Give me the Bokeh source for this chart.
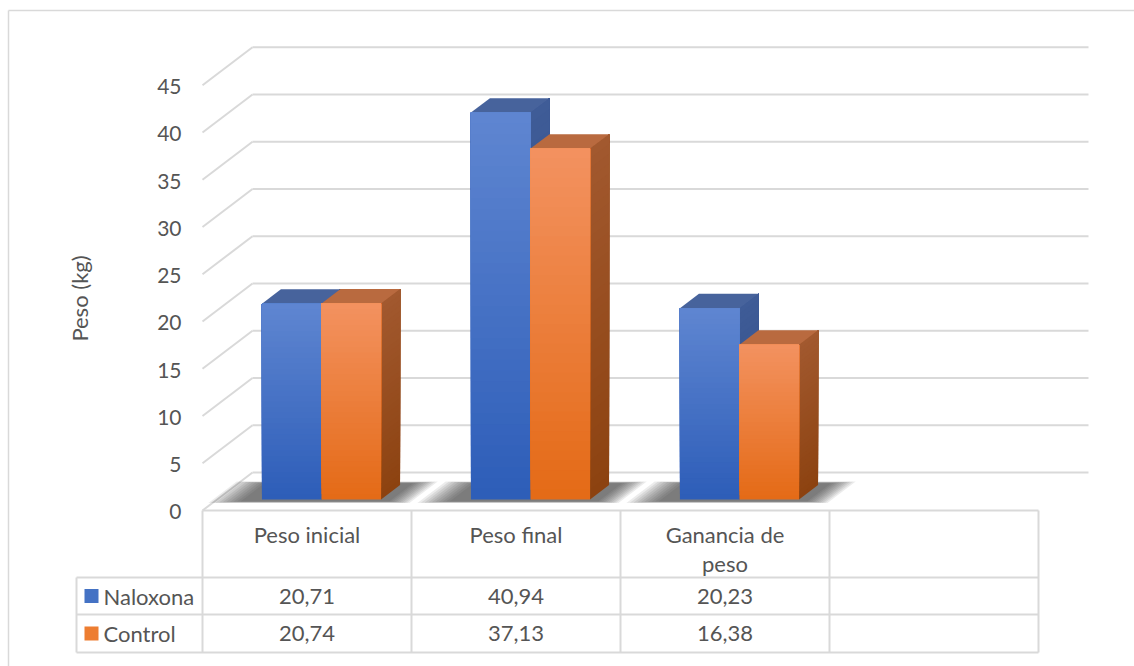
import math
from bokeh.plotting import figure
from bokeh.models import Range1d
from bokeh.core.properties import value
from bokeh.embed import file_html
from bokeh.resources import INLINE

# ---------------- data ----------------
categories = ["Peso inicial", "Peso final", "Ganancia de peso"]
n_columns = 4  # the table has one extra empty column
naloxona = [20.71, 40.94, 20.23]
control = [20.74, 37.13, 16.38]
series_names = ["Naloxona", "Control"]
y_ticks = [0, 5, 10, 15, 20, 25, 30, 35, 40, 45]
y_label = "Peso (kg)"

# ---------------- layout (pixel geometry) ----------------
W, H = 1134, 666
X0, CW = 202.0, 209.0       # left of first category column, column width (px)
Y0, KY = 510.0, 9.45        # px of value 0 on front plane, px per kg
DX = 50.0 / CW              # depth offset (data units)
DY = 38.0 / KY
D0, D1 = 0.29, 0.67         # bar depth (fraction of floor depth)
BAR_L, BAR_W = 0.215, 0.285

def X(px):
    return (px - X0) / CW

def Y(py):
    return (Y0 - py) / KY

FONT = value("Lato")
TXT = "#555555"
GRID = "#D9D9D9"
FS = "22px"

p = figure(width=W, height=H, x_range=Range1d(X(0), X(W)), y_range=Range1d(Y(H), Y(0)),
           output_backend="svg", toolbar_location=None, min_border=0)
p.axis.visible = False
p.grid.visible = False
p.outline_line_color = None
p.background_fill_color = "white"
p.border_fill_color = "white"

# outer chart frame (top + left)
p.segment(x0=[X(8), X(8)], y0=[Y(10), Y(10)], x1=[X(W), X(8)], y1=[Y(10), Y(H)],
          line_color=GRID, line_width=1.5)

# ---------------- gridlines (back wall + diagonal side wall) ----------------
gx0, gy0, gx1, gy1 = [], [], [], []
for v in y_ticks:
    gx0 += [DX, 0]
    gy0 += [v + DY, v]
    gx1 += [n_columns + DX, DX]
    gy1 += [v + DY, v + DY]
p.segment(x0=gx0, y0=gy0, x1=gx1, y1=gy1, line_color=GRID, line_width=2)

# tick labels
p.text(x=[X(181)] * len(y_ticks), y=[t - 0.15 for t in y_ticks], text=[str(t) for t in y_ticks],
       text_font=FONT, text_font_size="21px", text_color=TXT,
       text_align="right", text_baseline="middle")

# axis title
p.text(x=[X(79)], y=[Y(298)], text=[y_label], angle=math.pi / 2,
       text_font=FONT, text_font_size=FS, text_color=TXT,
       text_align="center", text_baseline="middle")

# ---------------- colours ----------------
def hex2rgb(h):
    h = h.lstrip("#")
    return tuple(int(h[i:i + 2], 16) for i in (0, 2, 4))

def mix(c1, c2, t):
    a, b = hex2rgb(c1), hex2rgb(c2)
    return "#%02x%02x%02x" % tuple(int(round(a[i] + (b[i] - a[i]) * t)) for i in range(3))

styles = [
    dict(front_top="#5F86D1", front_bot="#2D5DB8", side_top="#3F5C97", side_bot="#2C4A86",
         top="#47639C", legend="#4472C4"),
    dict(front_top="#F39260", front_bot="#E46A16", side_top="#A2592F", side_bot="#8C4210",
         top="#B96A3F", legend="#ED7D31"),
]

# ---------------- floor shadows (soft, many faint layers) ----------------
sh_xs, sh_ys = [], []
LAYERS = 10
for i in range(len(categories)):
    for k in range(LAYERS):
        e = 0.008 * (LAYERS - 1 - k)
        xl = i + BAR_L - 0.09 - e * 2.0
        xr = i + BAR_L + 2 * BAR_W + 0.05 + e * 1.5
        da = D0 - 0.05 - e * 0.6
        db = D1 + 0.05 + e * 0.6
        sh_xs.append([xl + da * DX, xr + da * DX, xr + db * DX, xl + db * DX])
        sh_ys.append([da * DY, da * DY, db * DY, db * DY])
p.patches(xs=sh_xs, ys=sh_ys, fill_color="#2a2a2a", fill_alpha=0.09, line_color=None)

# ---------------- 3D bars ----------------
N = 36
for i in range(len(categories)):
    for s, vals in enumerate([naloxona, control]):
        v = vals[i]
        st = styles[s]
        xl = i + BAR_L + s * BAR_W
        xr = xl + BAR_W
        s_xs, s_ys, s_c = [], [], []
        q_l, q_r, q_b, q_t, q_c = [], [], [], [], []
        for k in range(N):
            a = v * k / N
            s_xs.append([xr + D0 * DX, xr + D1 * DX, xr + D1 * DX, xr + D0 * DX])
            s_ys.append([a + D0 * DY, a + D1 * DY, v + D1 * DY, v + D0 * DY])
            s_c.append(mix(st["side_bot"], st["side_top"], (k + 0.5) / N))
            q_l.append(xl + D0 * DX)
            q_r.append(xr + D0 * DX)
            q_b.append(a + D0 * DY)
            q_t.append(v + D0 * DY)
            q_c.append(mix(st["front_bot"], st["front_top"], (k + 0.5) / N))
        t_xs = [[xl + D0 * DX, xr + D0 * DX, xr + D1 * DX, xl + D1 * DX]]
        t_ys = [[v + D0 * DY, v + D0 * DY, v + D1 * DY, v + D1 * DY]]
        p.patches(xs=s_xs, ys=s_ys, fill_color=s_c, line_color=None)
        p.patches(xs=t_xs, ys=t_ys, fill_color=st["top"], line_color=None)
        p.quad(left=q_l, right=q_r, bottom=q_b, top=q_t, fill_color=q_c, line_color=None)

# ---------------- data table ----------------
y_hdr = Y(577)
y_r1 = Y(614)
y_r2 = Y(652)
x_leg = X(76)
lx0 = [0, x_leg, x_leg, x_leg] + list(range(n_columns + 1)) + [x_leg]
ly0 = [0, y_hdr, y_r1, y_r2] + [0] * (n_columns + 1) + [y_hdr]
lx1 = [n_columns] * 4 + list(range(n_columns + 1)) + [x_leg]
ly1 = [0, y_hdr, y_r1, y_r2] + [y_r2] * (n_columns + 1) + [y_r2]
p.segment(x0=lx0, y0=ly0, x1=lx1, y1=ly1, line_color=GRID, line_width=2)

# header labels (wrapped)
hx, hy, ht = [], [], []
for i, c in enumerate(categories):
    words = c.split(" ")
    lines, cur = [], ""
    for w in words:
        cand = (cur + " " + w).strip()
        if len(cand) > 12 and cur:
            lines.append(cur)
            cur = w
        else:
            cur = cand
    lines.append(cur)
    for j, ln in enumerate(lines):
        hx.append(i + 0.5)
        hy.append(Y(534 + 29 * j))
        ht.append(ln)
p.text(x=hx, y=hy, text=ht, text_font=FONT, text_font_size=FS, text_color=TXT,
       text_align="center", text_baseline="middle")

def fmt(v):
    return ("%.2f" % v).replace(".", ",")

row_y = [(Y(577) + Y(614)) / 2, (Y(614) + Y(652)) / 2]
vx, vy, vt = [], [], []
for s, vals in enumerate([naloxona, control]):
    for i, v in enumerate(vals):
        vx.append(i + 0.5)
        vy.append(row_y[s])
        vt.append(fmt(v))
p.text(x=vx, y=vy, text=vt, text_font=FONT, text_font_size=FS, text_color=TXT,
       text_align="center", text_baseline="middle")

# legend keys in table
p.scatter(x=[X(91)] * 2, y=row_y, marker="square", size=14,
          fill_color=[styles[0]["legend"], styles[1]["legend"]], line_color=None)
p.text(x=[X(103)] * 2, y=row_y, text=series_names, text_font=FONT, text_font_size=FS,
       text_color=TXT, text_align="left", text_baseline="middle")

open("out.html", "w").write(file_html(p, INLINE))
